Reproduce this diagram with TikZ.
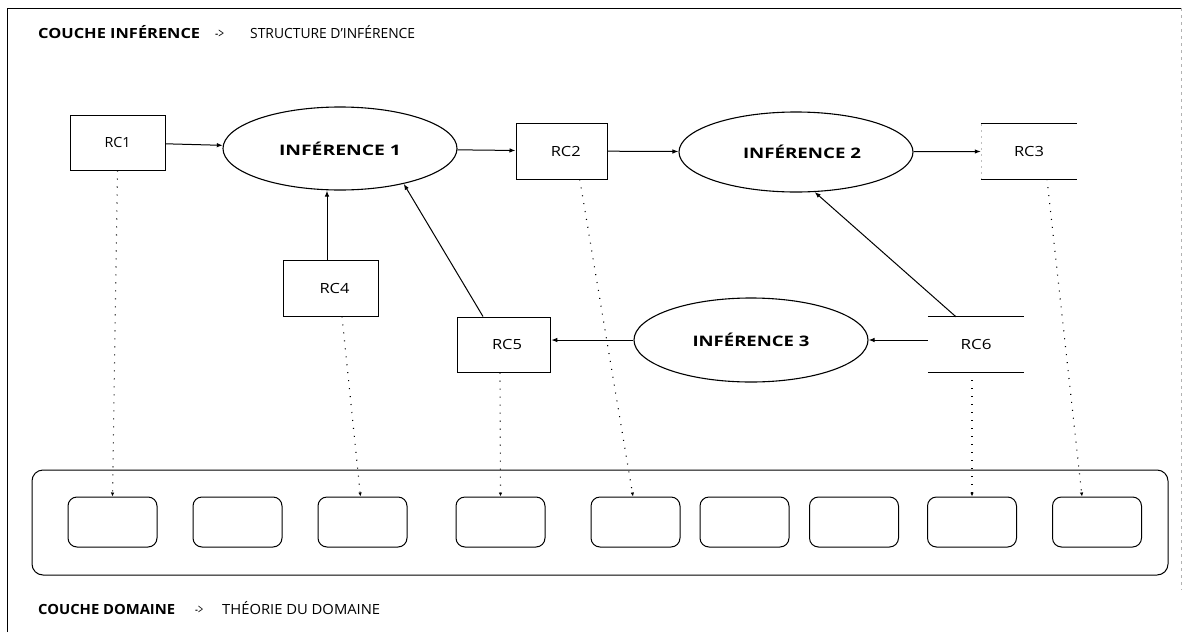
\documentclass[tikz,border=0pt]{standalone}
\usepackage{fontspec}
\usepackage{graphicx}
\setmainfont{Open Sans}
\usetikzlibrary{arrows.meta,shapes.geometric}
\newcommand{\wbox}[2]{\resizebox{#1}{\height}{#2}}
\begin{document}
\begin{tikzpicture}[x=1pt,y=-1pt,
  rc/.style={draw, line width=1pt, inner sep=0pt, font=\fontsize{14}{16}\selectfont},
  rcopen/.style={inner sep=0pt, font=\fontsize{14}{16}\selectfont},
  inf/.style={draw, ellipse, line width=1.1pt, inner sep=0pt, minimum width=234pt, font=\bfseries\fontsize{14.5}{16}\selectfont},
  flow/.style={line width=1pt, -{Latex[length=6pt,width=4.5pt]}},
  map/.style={line width=1.1pt, dash pattern=on 1pt off 7pt, -{Latex[length=4pt,width=3.5pt]}},
  slot/.style={draw, rounded corners=9pt, line width=1pt, minimum width=89pt, minimum height=50pt, inner sep=0pt},
  ttl/.style={anchor=base west, inner sep=0pt, font=\fontsize{14}{16}\selectfont}]
\useasboundingbox (0,0) rectangle (1186,632);
% frame
\draw[line width=0.9pt] (7,632) -- (7,8) -- (1181,8);
\draw[line width=0.5pt, gray!60, dash pattern=on 3pt off 4pt] (1181,8) -- (1181,590);
% titles
\node[ttl] (t1a) at (38,38) {\wbox{162pt}{\bfseries COUCHE INFÉRENCE}};
\node[ttl] (t1b) at (215,38) {\wbox{9pt}{->}};
\node[ttl] (t1c) at (250,38) {\wbox{165pt}{STRUCTURE D'INFÉRENCE}};
\node[ttl] (t2a) at (38,614) {\wbox{137pt}{\bfseries COUCHE DOMAINE}};
\node[ttl] (t2b) at (195,614) {\wbox{8pt}{->}};
\node[ttl] (t2c) at (222,614) {\wbox{158pt}{THÉORIE DU DOMAINE}};
% inference structure
\node[rc, minimum width=95pt, minimum height=55pt] (rc1) at (117.5,142.5) {\wbox{26pt}{RC1}};
\node[inf, minimum height=83pt] (inf1) at (340,148.5) {\wbox{122pt}{INFÉRENCE 1}};
\node[rc, minimum width=91.5pt, minimum height=56pt] (rc2) at (561.75,151) {\hspace{8pt}\wbox{30pt}{RC2}};
\node[inf, minimum height=80pt] (inf2) at (796,152) {\hspace{12pt}\wbox{118pt}{INFÉRENCE 2}};
\node[rcopen, minimum width=96pt, minimum height=55pt] (rc3) at (1029,151.5) {\wbox{30pt}{RC3}};
\node[rc, minimum width=95pt, minimum height=56pt] (rc4) at (330.5,288) {\hspace{8pt}\wbox{30pt}{RC4}};
\node[rc, minimum width=93.5pt, minimum height=55pt] (rc5) at (504,344.5) {\hspace{6pt}\wbox{30pt}{RC5}};
\node[inf, minimum height=84pt] (inf3) at (751,340) {\wbox{117pt}{INFÉRENCE 3}};
\node[rcopen, minimum width=96pt, minimum height=55pt] (rc6) at (976,344.5) {\wbox{31pt}{RC6}};
\draw[line width=1.1pt] (rc3.north west) -- (rc3.north east) (rc3.south west) -- (rc3.south east);
\draw[line width=0.4pt, gray!50, dash pattern=on 2pt off 4pt] (rc3.north west) -- (rc3.south west);
\draw[line width=1.1pt] (rc6.north west) -- (rc6.north east) (rc6.south west) -- (rc6.south east);
% flows
\draw[flow] (rc1) -- (inf1);
\draw[flow] (inf1) -- (rc2);
\draw[flow] (rc2) -- (inf2);
\draw[flow] (inf2) -- (rc3.west);
\draw[flow] ([xshift=-3.5pt]rc4.north) -- ([xshift=-3.5pt]rc4.north |- inf1.south);
\draw[flow] ([xshift=-21pt]rc5.north) -- (inf1.-29);
\draw[flow] ([xshift=-20pt]rc6.north) -- (inf2.-65);
\draw[flow] (inf3.west) -- (inf3.west -| rc5.east);
\draw[flow] (rc6.west |- inf3.east) -- (inf3.east);
% domain layer
\draw[line width=1pt, rounded corners=11pt] (32,470) rectangle (1168,575);
\node[slot] (s1) at (112.5,522) {};
\node[slot] (s2) at (237.5,522) {};
\node[slot] (s3) at (362.5,522) {};
\node[slot] (s4) at (500.5,522) {};
\node[slot] (s5) at (635.5,522) {};
\node[slot] (s6) at (744.5,522) {};
\node[slot] (s7) at (854,522) {};
\node[slot] (s8) at (972,522) {};
\node[slot] (s9) at (1097,522) {};
% mappings
\draw[map] (rc1.south) -- (s1.north);
\draw[map] ([xshift=11.5pt]rc4.south) -- ([xshift=-2pt]s3.north);
\draw[map] ([xshift=-4pt]rc5.south) -- (s4.north);
\draw[map] ([xshift=18pt]rc2.south) -- ([xshift=-2.5pt]s5.north);
\draw[map] ([xshift=-4pt]rc6.south) -- (s8.north);
\draw[map] ([xshift=18pt]rc3.south) -- ([xshift=-15pt]s9.north);
\end{tikzpicture}
\end{document}
